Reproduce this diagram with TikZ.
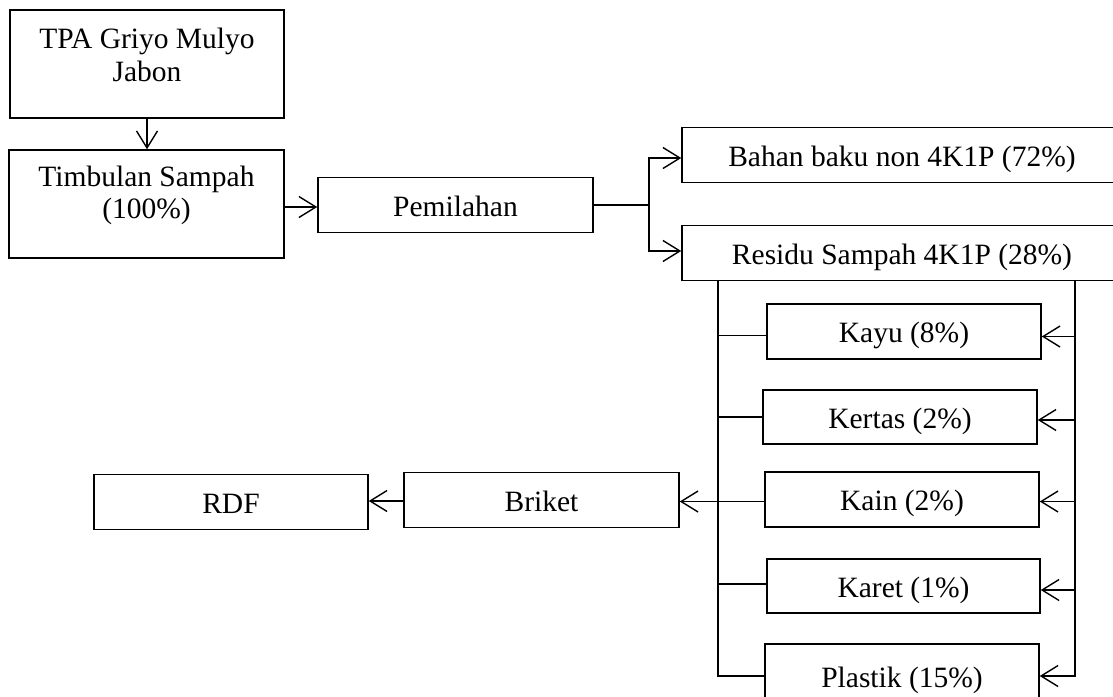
\documentclass[tikz,border=0pt]{standalone}
\usepackage{fontspec}
\setmainfont{Liberation Serif}
\usetikzlibrary{arrows.meta}
\begin{document}
\begin{tikzpicture}[x=1pt,y=-1pt,
  box/.style={draw, line width=1.5pt, inner sep=0pt, minimum width=#1,
    minimum height=55pt, text height=24pt, text depth=2pt,
    font=\fontsize{29.5}{33}\selectfont},
  box/.default=274,
  txt/.style={inner sep=0pt, font=\fontsize{29.5}{33}\selectfont},
  conn/.style={line width=1.5pt},
  arr/.style={line width=1.5pt, -{Straight Barb[length=17pt,width=21pt,line width=1.4pt]}}
]
\useasboundingbox (0,0) rectangle (1113,696);
\clip (0,0) rectangle (1113,696);

% boxes
\node[box=274, minimum height=108pt] (tpa) at (147,64) {};
\node[txt, anchor=base] (tpaA) at (147,48) {TPA Griyo Mulyo};
\node[txt, anchor=base] (tpaB) at (147,81.5) {Jabon};

\node[box=275, minimum height=108pt] (tim) at (146.5,204) {};
\node[txt, anchor=base] (timA) at (146.5,186.7) {Timbulan Sampah};
\node[txt, anchor=base] (timB) at (146.5,218.3) {(100\%)};

\node[box=275] (pem) at (455.5,205) {Pemilahan};
\node[box=440] (bahan) at (902,155) {Bahan baku non 4K1P (72\%)};
\node[box=440] (residu) at (902,253) {Residu Sampah 4K1P (28\%)};

\node[box=274] (kayu) at (904,331.5) {Kayu (8\%)};
\node[box=274, minimum height=54pt] (kertas) at (900,417) {Kertas (2\%)};
\node[box=274] (kain) at (902,499.5) {Kain (2\%)};
\node[box=273, minimum height=54pt] (karet) at (903.5,586) {Karet (1\%)};
\node[box=274, minimum height=64pt] (plastik) at (902,676) {Plastik (15\%)};

\node[box=275] (briket) at (541.5,500) {Briket};
\node[box=274] (rdf) at (231,502) {RDF};

% connectors
\draw[arr] (tpa.south) -- (tpa.south |- tim.north);
\draw[arr] ([yshift=-3pt]tim.east) -- ([yshift=-3pt]tim.east -| pem.west);
\draw[conn] (pem.east) -- ++(55,0) coordinate (sp);
\draw[arr] (sp) |- ([yshift=-3pt]bahan.west);
\draw[arr] (sp) |- ([yshift=2pt]residu.west);

\coordinate (lt) at (718,281);
\coordinate (lb) at (718,677);
\coordinate (rt) at (1075,281);
\coordinate (rb) at (1075,677);
\draw[conn] (lt) -- (lb);
\draw[conn] (rt) -- (rb);

\draw[conn] ([yshift=-4pt]kayu.west) -- ([yshift=-4pt]kayu.west -| lt);
\draw[conn] (kertas.west) -- (kertas.west -| lt);
\draw[conn] ([yshift=2pt]karet.west) -- ([yshift=2pt]karet.west -| lt);
\draw[conn] (plastik.west) -- (plastik.west -| lt);
\draw[arr] ([yshift=-2pt]kain.west) -- ([yshift=-2pt]kain.west -| briket.east);

\draw[arr] ([yshift=-5pt]kayu.east -| rt) -- ([yshift=-5pt]kayu.east);
\draw[arr] ([yshift=-3pt]kertas.east -| rt) -- ([yshift=-3pt]kertas.east);
\draw[arr] ([yshift=-2pt]kain.east -| rt) -- ([yshift=-2pt]kain.east);
\draw[arr] ([yshift=-4pt]karet.east -| rt) -- ([yshift=-4pt]karet.east);
\draw[arr] (plastik.east -| rt) -- (plastik.east);

\draw[arr] ([yshift=-1pt]briket.west) -- ([yshift=-1pt]briket.west -| rdf.east);
\end{tikzpicture}
\end{document}
